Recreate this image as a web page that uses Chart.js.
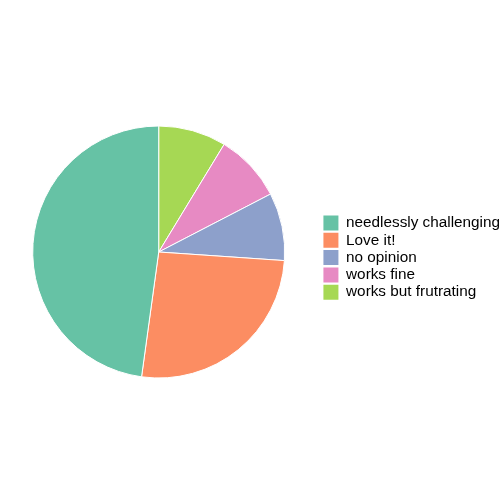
<!DOCTYPE html>
<html>
<head>
<meta charset="utf-8">
<script src="https://cdn.jsdelivr.net/npm/chart.js@4"></script>
<style>
  html, body { margin: 0; padding: 0; background: #fff; overflow: hidden; }
  #wrap { width: 504px; height: 504px; overflow: hidden; }
  #pie { margin-left: -4px; display: block; }
</style>
</head>
<body>
<div id="wrap"><canvas id="pie" width="508" height="504"></canvas></div>
<script>
// slices in clockwise order from 12 o'clock (legend shows them reversed)
const categories = ['works but frutrating', 'works fine', 'no opinion', 'Love it!', 'needlessly challenging'];
const counts = [2, 2, 2, 6, 11];
const colors = ['#A6D854', '#E78AC3', '#8DA0CB', '#FC8D62', '#66C2A5'];

new Chart(document.getElementById('pie'), {
    type: 'pie',
    data: {
        labels: categories,
        datasets: [{
            data: counts,
            backgroundColor: colors,
            borderColor: '#ffffff',
            borderWidth: 1,
            radius: 126
        }]
    },
    options: {
        responsive: false,
        animation: false,
        layout: {
            padding: { left: 0, right: -6, top: 0, bottom: 0 }
        },
        plugins: {
            tooltip: { enabled: false },
            legend: {
                position: 'right',
                reverse: true,
                title: {
                    display: true,
                    text: '',
                    font: { size: 1 },
                    padding: { top: 5, bottom: 5 }
                },
                labels: {
                    boxWidth: 15,
                    boxHeight: 15,
                    padding: 2,
                    color: '#000',
                    font: { family: "'Liberation Sans', Arial, sans-serif", size: 15.3 },
                    generateLabels: (chart) => {
                        const items = Chart.overrides.pie.plugins.legend.labels.generateLabels(chart);
                        items.forEach(it => { it.lineWidth = 0; it.strokeStyle = 'rgba(0,0,0,0)'; });
                        return items;
                    }
                }
            }
        }
    }
});
</script>
</body>
</html>
